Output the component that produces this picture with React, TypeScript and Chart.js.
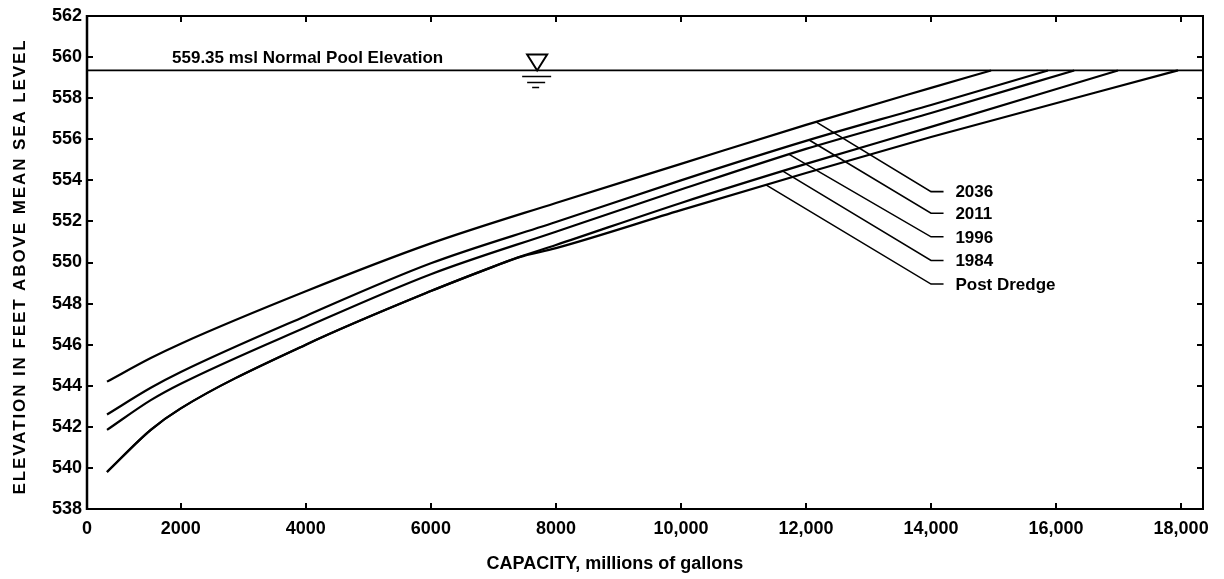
import React, { useEffect, useRef } from 'react';
import { Chart, registerables } from 'chart.js';

Chart.register(...registerables);

// Reservoir stage-capacity curves
const POOL_ELEVATION = 559.35;
const X_MIN = 500;
const X_MAX = 18350;
const Y_MIN = 538;
const Y_MAX = 562;

const xTickValues = [500, 2000, 4000, 6000, 8000, 10000, 12000, 14000, 16000, 18000];
const xTickLabels = ['0', '2000', '4000', '6000', '8000', '10,000', '12,000', '14,000', '16,000', '18,000'];

const seriesNames = ['2036', '2011', '1996', '1984', 'Post Dredge'];

const capacity2036 = [820, 1520, 2000, 4000, 6000, 8000, 10000, 12000, 14000, 14960];
const elevation2036 = [544.2, 545.35, 546.05, 548.6, 550.93, 552.9, 554.8, 556.7, 558.5, 559.35];

const capacity2011 = [820, 1520, 2000, 4000, 6000, 8000, 10000, 12000, 14000, 15870];
const elevation2011 = [542.6, 543.9, 544.67, 547.4, 549.96, 551.97, 554.0, 555.92, 557.67, 559.35];

const capacity1996 = [820, 1520, 2000, 4000, 6000, 8000, 10000, 12000, 14000, 16290];
const elevation1996 = [541.85, 543.3, 544.1, 546.85, 549.43, 551.5, 553.55, 555.53, 557.28, 559.35];

const capacity1984 = [820, 1520, 2000, 4000, 6000, 7000, 7400, 8000, 10000, 12000, 14000, 16990];
const elevation1984 = [539.8, 541.85, 542.9, 546.0, 548.61, 549.8, 550.25, 550.85, 552.9, 554.8, 556.6, 559.35];

const capacityPostDredge = [820, 1520, 2000, 4000, 6000, 7000, 7400, 8000, 10000, 12000, 14000, 17950];
const elevationPostDredge = [539.8, 541.85, 542.9, 546.0, 548.61, 549.8, 550.25, 550.7, 552.55, 554.36, 556.11, 559.35];

// Callout leaders: where each leader touches its curve, and where its label sits
const leaderCapacity = [12160, 12050, 11730, 11630, 11360];
const labelElevation = [553.45, 552.4, 551.25, 550.1, 548.95];
const leaderElbowCapacity = 14000;
const leaderEndCapacity = 14200;
const labelCapacity = 14390;

const poolLabel = '559.35 msl Normal Pool Elevation';
const poolLabelCapacity = 1860;
const waterSymbolCapacity = 7700;

const xTitle = 'CAPACITY, millions of gallons';
const yTitle = 'ELEVATION IN FEET ABOVE MEAN SEA LEVEL';

const FONT = '"Liberation Sans", Arial, Helvetica, sans-serif';

const curveCapacities = [capacity2036, capacity2011, capacity1996, capacity1984, capacityPostDredge];
const curveElevations = [elevation2036, elevation2011, elevation1996, elevation1984, elevationPostDredge];

function toPoints(xs: number[], ys: number[]) {
  return xs.map((x, i) => ({ x, y: ys[i] }));
}

function elevationAt(xs: number[], ys: number[], c: number) {
  for (let i = 0; i < xs.length - 1; i++) {
    if (c >= xs[i] && c <= xs[i + 1]) {
      const t = (c - xs[i]) / (xs[i + 1] - xs[i]);
      return ys[i] + t * (ys[i + 1] - ys[i]);
    }
  }
  return ys[ys.length - 1];
}

const decorations = {
  id: 'decorations',
  afterDraw(chart: any) {
    const { ctx, chartArea: a, scales } = chart;
    const xs = scales.x;
    const ys = scales.y;
    ctx.save();
    ctx.strokeStyle = '#000';
    ctx.fillStyle = '#000';
    ctx.lineCap = 'butt';

    // Frame
    ctx.lineWidth = 2;
    ctx.strokeRect(a.left, a.top, a.right - a.left, a.bottom - a.top);
    ctx.lineWidth = 2.5;
    ctx.beginPath();
    ctx.moveTo(a.left, a.top - 1);
    ctx.lineTo(a.left, a.bottom + 1);
    ctx.stroke();

    // Inward tick marks on all four sides
    ctx.lineWidth = 2;
    const tl = 6;
    ctx.beginPath();
    xTickValues.forEach((v) => {
      if (v === X_MIN) return;
      const px = Math.round(xs.getPixelForValue(v));
      ctx.moveTo(px, a.bottom);
      ctx.lineTo(px, a.bottom - tl);
      ctx.moveTo(px, a.top);
      ctx.lineTo(px, a.top + tl);
    });
    for (let v = Y_MIN + 2; v < Y_MAX; v += 2) {
      const py = Math.round(ys.getPixelForValue(v));
      ctx.moveTo(a.left, py);
      ctx.lineTo(a.left + tl, py);
      ctx.moveTo(a.right, py);
      ctx.lineTo(a.right - tl, py);
    }
    ctx.stroke();

    // Normal pool label and water-surface symbol
    const poolY = ys.getPixelForValue(POOL_ELEVATION);
    ctx.font = `bold 17px ${FONT}`;
    ctx.textAlign = 'left';
    ctx.textBaseline = 'alphabetic';
    ctx.fillText(poolLabel, xs.getPixelForValue(poolLabelCapacity), poolY - 7);

    const sx = xs.getPixelForValue(waterSymbolCapacity);
    ctx.lineWidth = 2;
    ctx.beginPath();
    ctx.moveTo(sx - 10, poolY - 16);
    ctx.lineTo(sx + 10, poolY - 16);
    ctx.lineTo(sx, poolY);
    ctx.closePath();
    ctx.stroke();
    ctx.lineWidth = 1.6;
    ctx.beginPath();
    ctx.moveTo(sx - 15, poolY + 6);
    ctx.lineTo(sx + 14, poolY + 6);
    ctx.moveTo(sx - 10, poolY + 12);
    ctx.lineTo(sx + 8, poolY + 12);
    ctx.moveTo(sx - 5, poolY + 17);
    ctx.lineTo(sx + 2, poolY + 17);
    ctx.stroke();

    // Series labels
    ctx.font = `bold 17px ${FONT}`;
    ctx.textBaseline = 'middle';
    seriesNames.forEach((name, i) => {
      ctx.fillText(name, xs.getPixelForValue(labelCapacity), ys.getPixelForValue(labelElevation[i]) + 1);
    });

    // Axis titles
    ctx.font = `bold 18px ${FONT}`;
    ctx.textAlign = 'center';
    ctx.fillText(xTitle, a.left + (a.right - a.left) * 0.473, 564);

    ctx.save();
    ctx.font = `bold 17px ${FONT}`;
    (ctx as any).letterSpacing = '1.9px';
    ctx.translate(20, (a.top + a.bottom) / 2 + 4);
    ctx.rotate(-Math.PI / 2);
    ctx.textAlign = 'center';
    ctx.textBaseline = 'middle';
    ctx.fillText(yTitle, 0, 0);
    ctx.restore();

    ctx.restore();
  },
};

export default function App() {
  const canvasRef = useRef<HTMLCanvasElement | null>(null);

  useEffect(() => {
    if (!canvasRef.current) return;

    const curveSets = seriesNames.map((name, i) => ({
      label: name,
      data: toPoints(curveCapacities[i], curveElevations[i]),
      borderColor: '#000',
      borderWidth: 2.2,
      pointRadius: 0,
      fill: false,
      cubicInterpolationMode: 'monotone' as const,
    }));

    const leaderSets = seriesNames.map((name, i) => {
      const c = leaderCapacity[i];
      const e = elevationAt(curveCapacities[i], curveElevations[i], c);
      return {
        label: `${name} leader`,
        data: [
          { x: c, y: e },
          { x: leaderElbowCapacity, y: labelElevation[i] },
          { x: leaderEndCapacity, y: labelElevation[i] },
        ],
        borderColor: '#000',
        borderWidth: 1.6,
        pointRadius: 0,
        fill: false,
        tension: 0,
      };
    });

    const poolSet = {
      label: 'Normal Pool',
      data: [
        { x: X_MIN, y: POOL_ELEVATION },
        { x: X_MAX, y: POOL_ELEVATION },
      ],
      borderColor: '#000',
      borderWidth: 1.7,
      pointRadius: 0,
      fill: false,
      tension: 0,
    };

    const chart = new Chart(canvasRef.current, {
      type: 'line',
      data: { datasets: [poolSet, ...curveSets, ...leaderSets] as any },
      options: {
        animation: false,
        responsive: false,
        layout: { padding: { top: 16, right: 21, left: 0, bottom: 0 } },
        plugins: {
          legend: { display: false },
          tooltip: { enabled: false },
        },
        scales: {
          x: {
            type: 'linear',
            min: X_MIN,
            max: X_MAX,
            grid: { display: false, drawTicks: false },
            border: { display: false },
            afterBuildTicks: (scale: any) => {
              scale.ticks = xTickValues.map((v) => ({ value: v }));
            },
            afterFit: (scale: any) => {
              scale.height = 70;
            },
            ticks: {
              autoSkip: false,
              maxRotation: 0,
              padding: 9,
              color: '#000',
              font: { family: FONT, size: 18, weight: 'bold' },
              callback: (_v: any, index: number) => xTickLabels[index],
            },
          },
          y: {
            type: 'linear',
            min: Y_MIN,
            max: Y_MAX,
            grid: { display: false, drawTicks: false },
            border: { display: false },
            afterFit: (scale: any) => {
              scale.width = 87;
            },
            ticks: {
              stepSize: 2,
              padding: 5,
              color: '#000',
              font: { family: FONT, size: 18, weight: 'bold' },
            },
          },
        },
      },
      plugins: [decorations],
    });

    return () => chart.destroy();
  }, []);

  return (
    <div style={{ position: 'fixed', left: 0, top: 0, width: 1224, height: 579, background: '#fff' }}>
      <canvas ref={canvasRef} width={1224} height={579} />
    </div>
  );
}
